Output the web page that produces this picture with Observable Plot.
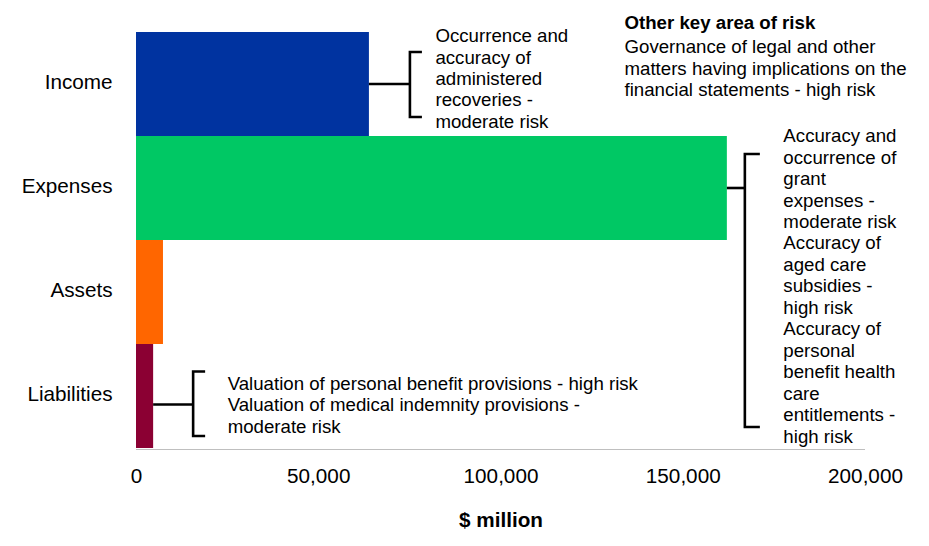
<!DOCTYPE html>
<html><head><meta charset="utf-8">
<script src="https://cdn.jsdelivr.net/npm/d3@7"></script>
<script src="https://cdn.jsdelivr.net/npm/@observablehq/plot@0.6"></script>
<style>body{margin:0;background:#fff} svg{display:block}</style>
</head><body><div id="chart"></div>
<script>
// ---- data ----
const categories = ["Income", "Expenses", "Assets", "Liabilities"];
const values = [63900, 162100, 7400, 4700];
const colors = ["#0033a0", "#00c864", "#ff6600", "#8b0033"];
const xTicks = [0, 50000, 100000, 150000, 200000];
const xLabel = "$ million";
const incomeRisks = "Occurrence and\naccuracy of\nadministered\nrecoveries -\nmoderate risk";
const expensesRisks = "Accuracy and\noccurrence of\ngrant\nexpenses -\nmoderate risk\nAccuracy of\naged care\nsubsidies -\nhigh risk\nAccuracy of\npersonal\nbenefit health\ncare\nentitlements -\nhigh risk";
const liabilitiesRisks = "Valuation of personal benefit provisions - high risk\nValuation of medical indemnity provisions -\nmoderate risk";
const otherTitle = "Other key area of risk";
const otherRisks = "Governance of legal and other\nmatters having implications on the\nfinancial statements - high risk";

const data = categories.map((c, i) => ({category: c, value: values[i]}));
const byCat = Object.fromEntries(data.map(d => [d.category, d]));

const FONT = "Arial, 'Liberation Sans', sans-serif";
const NOTE = 18.67;
const AXIS = 20.7;

// bracket annotations: connector from bar end, vertical bracket with serifs
const brackets = [
  {cat: "Income", off: 41, cy: 0, top: -32, bottom: 33, serif: 12},
  {cat: "Expenses", off: 18, cy: 0, top: -34, bottom: 239, serif: 15},
  {cat: "Liabilities", off: 40, cy: 8.5, top: -24.5, bottom: 40, serif: 12}
];

function annotations(index, scales, values, dimensions) {
  const x = scales.x, y = scales.y;
  const bw = y.bandwidth ? y.bandwidth() : (dimensions.height - dimensions.marginTop - dimensions.marginBottom) / categories.length;
  const g = d3.create("svg:g");
  // baseline axis line
  g.append("line")
    .attr("x1", dimensions.marginLeft).attr("x2", dimensions.width - dimensions.marginRight)
    .attr("y1", dimensions.height - dimensions.marginBottom + 0.5).attr("y2", dimensions.height - dimensions.marginBottom + 0.5)
    .attr("stroke", "#bfbfbf").attr("stroke-width", 1.2);
  for (const b of brackets) {
    const d = byCat[b.cat];
    const x0 = x(d.value);
    const yc = y(b.cat) + bw / 2;
    const bx = x0 + b.off;
    g.append("line").attr("x1", x0).attr("x2", bx).attr("y1", yc + b.cy).attr("y2", yc + b.cy)
      .attr("stroke", "#000").attr("stroke-width", 2.6);
    g.append("path")
      .attr("d", `M${bx + b.serif},${yc + b.top}H${bx}V${yc + b.bottom}H${bx + b.serif}`)
      .attr("fill", "none").attr("stroke", "#000").attr("stroke-width", 2.6);
  }
  return g.node();
}

const chart = Plot.plot({
  width: 929,
  height: 546,
  marginLeft: 136,
  marginRight: 64,
  marginTop: 30,
  marginBottom: 97,
  style: {fontFamily: FONT, fontSize: AXIS + "px", background: "#fff", color: "#000"},
  x: {domain: [0, 200000], label: null},
  y: {domain: categories, padding: 0, label: null},
  color: {domain: categories, range: colors},
  marks: [
    Plot.barX(data, {x: "value", y: "category", fill: "category"}),
    Plot.axisX({ticks: xTicks, tickFormat: d3.format(","), tickSize: 0, tickPadding: 19, fontSize: AXIS, label: null}),
    Plot.axisY({tickSize: 0, tickPadding: 24, fontSize: AXIS, dy: -2, label: null}),
    annotations,
    Plot.text([byCat.Income], {x: "value", y: "category", text: () => incomeRisks, dx: 66, dy: -6.4,
      textAnchor: "start", lineAnchor: "middle", lineHeight: 1.15, fontSize: NOTE}),
    Plot.text([byCat.Expenses], {x: "value", y: "category", text: () => expensesRisks, dx: 56, dy: 97,
      textAnchor: "start", lineAnchor: "middle", lineHeight: 1.15, fontSize: NOTE}),
    Plot.text([byCat.Liabilities], {x: "value", y: "category", text: () => liabilitiesRisks, dx: 74, dy: 8,
      textAnchor: "start", lineAnchor: "middle", lineHeight: 1.15, fontSize: NOTE}),
    Plot.text([otherTitle], {frameAnchor: "top-left", text: d => d, dx: 488, dy: -7,
      textAnchor: "start", lineAnchor: "middle", fontSize: NOTE, fontWeight: "bold"}),
    Plot.text([otherRisks], {frameAnchor: "top-left", text: d => d, dx: 488, dy: 37.5,
      textAnchor: "start", lineAnchor: "middle", lineHeight: 1.15, fontSize: NOTE}),
    Plot.text([xLabel], {frameAnchor: "bottom", text: d => d, dy: 71, lineAnchor: "middle",
      fontSize: AXIS, fontWeight: "bold"})
  ]
});
document.getElementById("chart").append(chart);
</script>
</body></html>
